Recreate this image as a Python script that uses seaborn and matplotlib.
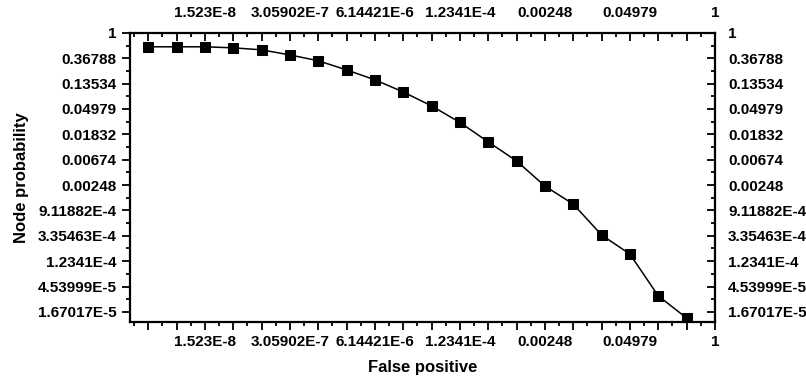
import numpy as np
import pandas as pd
import matplotlib
matplotlib.use("Agg")
import matplotlib.pyplot as plt
import seaborn as sns
from matplotlib.ticker import FixedLocator, FixedFormatter

# data (natural-log axes)
false_positive = [2.06115e-9, 5.6028e-9, 1.523e-8, 4.13994e-8, 1.12535e-7,
                  3.05902e-7, 8.31529e-7, 2.26033e-6, 6.14421e-6, 1.67017e-5,
                  4.53999e-5, 1.2341e-4, 3.35463e-4, 9.11882e-4, 0.00247875,
                  0.00673795, 0.0183156, 0.0497871, 0.135335, 0.367879]
node_probability = [0.577, 0.577, 0.577, 0.554, 0.512, 0.419, 0.333, 0.232,
                    0.157, 0.0973, 0.0561, 0.0293, 0.01357, 0.00641, 0.00238,
                    0.00117, 3.46e-4, 1.63e-4, 3.14e-5, 1.31e-5]

x_tick_exp = [-18, -15, -12, -9, -6, -3, 0]
x_tick_labels = ["1.523E-8", "3.05902E-7", "6.14421E-6", "1.2341E-4",
                 "0.00248", "0.04979", "1"]
y_tick_exp = [0, -1, -2, -3, -4, -5, -6, -7, -8, -9, -10, -11]
y_tick_labels = ["1", "0.36788", "0.13534", "0.04979", "0.01832", "0.00674",
                 "0.00248", "9.11882E-4", "3.35463E-4", "1.2341E-4",
                 "4.53999E-5", "1.67017E-5"]

sns.set_style("ticks")
plt.rcParams['font.family'] = ['Liberation Sans', 'DejaVu Sans']
plt.rcParams['font.weight'] = 'bold'
plt.rcParams['text.color'] = 'black'
plt.rcParams['axes.labelcolor'] = 'black'
plt.rcParams['xtick.color'] = 'black'
plt.rcParams['ytick.color'] = 'black'
plt.rcParams['xtick.labelcolor'] = 'black'
plt.rcParams['ytick.labelcolor'] = 'black'

df = pd.DataFrame({"fp": false_positive, "np": node_probability})

fig, ax = plt.subplots(figsize=(8.06, 3.82), dpi=100)
fig.subplots_adjust(left=0.161, right=0.887, bottom=0.157, top=0.914)

sns.lineplot(data=df, x="fp", y="np", ax=ax, color="black", marker="s",
             markersize=7, linewidth=1.1, markeredgecolor="black")

ax.set_xscale("log", base=np.e)
ax.set_yscale("log", base=np.e)
ax.set_xlim(np.exp(-20.65), 1)
ax.set_ylim(np.exp(-11.4), 1)

# x: major tick at every e^k, label every third
x_major = list(range(-20, 1))
x_labels = [x_tick_labels[x_tick_exp.index(k)] if k in x_tick_exp else ""
            for k in x_major]
ax.xaxis.set_major_locator(FixedLocator(np.exp(x_major)))
ax.xaxis.set_major_formatter(FixedFormatter(x_labels))
ax.xaxis.set_minor_locator(FixedLocator(np.exp(np.arange(-20.5, 0, 1.0))))
ax.xaxis.set_minor_formatter(FixedFormatter([]))

ax.yaxis.set_major_locator(FixedLocator(np.exp(y_tick_exp)))
ax.yaxis.set_major_formatter(FixedFormatter(y_tick_labels))
ax.yaxis.set_minor_locator(FixedLocator(np.exp(np.arange(-11.5, 0, 1.0))))
ax.yaxis.set_minor_formatter(FixedFormatter([]))

for s in ax.spines.values():
    s.set_visible(True)
    s.set_linewidth(1.6)
    s.set_color("black")

ax.tick_params(which="both", top=True, right=True, labeltop=True,
               labelright=True, labelsize=11, width=1.3, colors="black",
               labelcolor="black")
ax.tick_params(which="major", length=6)
ax.tick_params(which="minor", length=3)
# top and right ticks point inward
for t in ax.xaxis.get_major_ticks() + ax.xaxis.get_minor_ticks():
    t.tick2line.set_marker(matplotlib.lines.TICKDOWN)
for t in ax.yaxis.get_major_ticks() + ax.yaxis.get_minor_ticks():
    t.tick2line.set_marker(matplotlib.lines.TICKLEFT)

ax.set_xlabel("False positive", fontsize=12, fontweight="bold", labelpad=8,
              color="black")
ax.set_ylabel("Node probability", fontsize=12, fontweight="bold", labelpad=6,
              color="black")

fig.savefig("out.png", dpi=100)
